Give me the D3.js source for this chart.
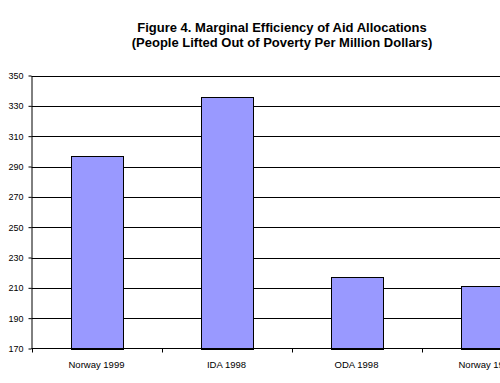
<!DOCTYPE html>
<html><head><meta charset="utf-8">
<script src="https://cdn.jsdelivr.net/npm/d3@7"></script>
<style>body{margin:0;background:#fff}svg{display:block}</style>
</head><body>
<script>
const categories = ["Norway 1999", "IDA 1998", "ODA 1998", "Norway 1999"];
const values = [297, 336, 217, 211];
const yTicks = [170, 190, 210, 230, 250, 270, 290, 310, 330, 350];
const titleLines = ["Figure 4. Marginal Efficiency of Aid Allocations", "(People Lifted Out of Poverty Per Million Dollars)"];

(function () {
const W = 500, H = 383;
const svg = d3.select("body").append("svg").attr("width", W).attr("height", H);
const pLeft = 31.5, pRight = 551.5, pTop = 75.5, pBottom = 348.5;

const x = d3.scaleBand().domain(d3.range(categories.length)).range([pLeft, pRight]).paddingInner(0.6).paddingOuter(0.3);
const y = d3.scaleLinear().domain([170, 350]).range([pBottom, pTop]);

// gridlines
svg.append("g").selectAll("line").data(yTicks.slice(1)).join("line")
  .attr("x1", pLeft).attr("x2", pRight).attr("y1", d => Math.round(y(d)) + 0.5).attr("y2", d => Math.round(y(d)) + 0.5)
  .attr("stroke", "#000").attr("stroke-width", 1);

// bars
svg.append("g").selectAll("rect").data(values).join("rect")
  .attr("x", (d, i) => Math.round(x(i)) + 0.5).attr("width", Math.round(x.bandwidth()))
  .attr("y", d => Math.round(y(d)) + 0.5).attr("height", d => Math.round(y(170)) - Math.round(y(d)))
  .attr("fill", "#9999FF").attr("stroke", "#000").attr("stroke-width", 1);

// y axis
const ya = d3.axisLeft(y).tickValues(yTicks).tickSize(3).tickSizeOuter(0).tickPadding(5);
const gy = svg.append("g").attr("transform", `translate(${pLeft},0)`).call(ya);
gy.select(".domain").attr("stroke", "#000");
gy.selectAll(".tick line").attr("stroke", "#000");
gy.selectAll("text").attr("font-family", "Liberation Sans, Arial, sans-serif").attr("font-size", 9).attr("fill", "#000");

// x axis
const step = x.step();
const boundaries = d3.range(categories.length + 1).map(i => pLeft + i * step);
svg.append("line").attr("x1", pLeft).attr("x2", pRight).attr("y1", pBottom).attr("y2", pBottom).attr("stroke", "#000");
svg.append("g").selectAll("line").data(boundaries).join("line")
  .attr("x1", d => Math.round(d) + 0.5).attr("x2", d => Math.round(d) + 0.5).attr("y1", pBottom).attr("y2", pBottom + 4)
  .attr("stroke", "#000");
svg.append("g").selectAll("text").data(categories).join("text")
  .attr("x", (d, i) => x(i) + x.bandwidth() / 2).attr("y", 368)
  .attr("text-anchor", "middle").attr("font-family", "Liberation Sans, Arial, sans-serif").attr("font-size", 9.5)
  .text(d => d);

// title
svg.append("g").selectAll("text").data(titleLines).join("text")
  .attr("x", 282).attr("y", (d, i) => 31.5 + i * 15)
  .attr("text-anchor", "middle").attr("font-family", "Liberation Sans, Arial, sans-serif")
  .attr("font-weight", "bold").attr("font-size", 13).text(d => d);
})();
</script>
</body></html>
